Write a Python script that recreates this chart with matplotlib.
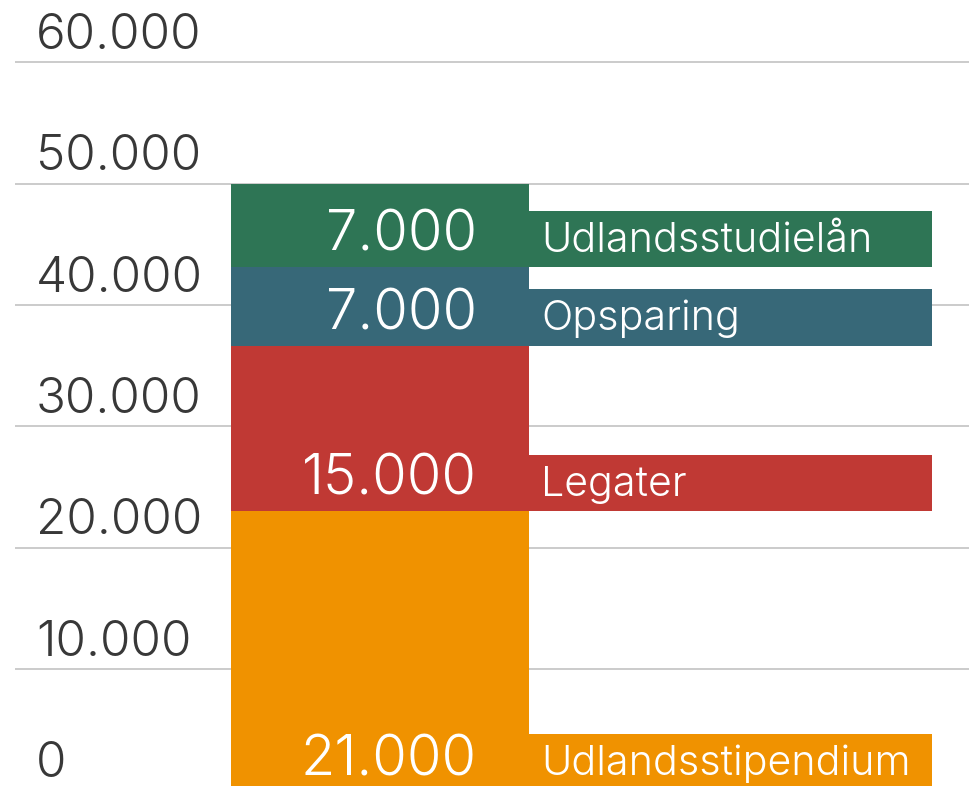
import matplotlib
matplotlib.use("Agg")
import matplotlib.pyplot as plt
from matplotlib.transforms import offset_copy

# ---- data ----
categories = ["Udlandsstipendium", "Legater", "Opsparing", "Udlandsstudielån"]
segment_heights = [23000, 13650, 6450, 6900]          # bar heights as drawn
value_labels = ["21.000", "15.000", "7.000", "7.000"]  # printed values
colors = ["#F09200", "#C03934", "#376878", "#2E7555"]
y_ticks = [0, 10000, 20000, 30000, 40000, 50000, 60000]

FONT = ["Inter", "DejaVu Sans"]
W = 300

fig = plt.figure(figsize=(9.69, 7.86), dpi=100)
ax = fig.add_axes([0, 0, 1, 1])
ax.set_xlim(0, 969)
ax.set_ylim(387, 65130)
ax.axis("off")

# gridlines
ax.hlines(y_ticks, 15, 969, colors="#bdbdbd", linewidth=1.1, zorder=0)

# tick labels (above gridline)
tick_tr = offset_copy(ax.transData, fig=fig, x=0, y=13.5, units="dots")
for t in y_ticks:
    ax.text(36, t, f"{t:,}".replace(",", "."), transform=tick_tr,
            fontsize=35.6, family=FONT, fontweight=W, color="#383838",
            ha="left", va="baseline")

bar_left, bar_width = 231, 298
box_left, box_width = 529.5, 402.5
box_height = 4650

bottom = 0
for i, (cat, h, lab, c) in enumerate(zip(categories, segment_heights, value_labels, colors)):
    ax.bar(bar_left, h, width=bar_width, bottom=bottom, align="edge",
           color=c, linewidth=0, zorder=2)
    ax.bar(box_left, box_height, width=box_width, bottom=bottom, align="edge",
           color=c, linewidth=0, zorder=2)
    # category label
    tr = offset_copy(ax.transData, fig=fig, x=0, y=15.5, units="dots")
    ax.text(541.5, bottom, cat, transform=tr, fontsize=29.7, family=FONT,
            fontweight=W, color="white", ha="left", va="baseline", zorder=3)
    # value label
    dy = 14.7 if i == 0 else 16.6
    tr2 = offset_copy(ax.transData, fig=fig, x=0, y=dy, units="dots")
    ax.text(477, bottom, lab, transform=tr2, fontsize=40.3, family=FONT,
            fontweight=W, color="white", ha="right", va="baseline", zorder=3)
    bottom += h

fig.savefig("out.png", dpi=100)
